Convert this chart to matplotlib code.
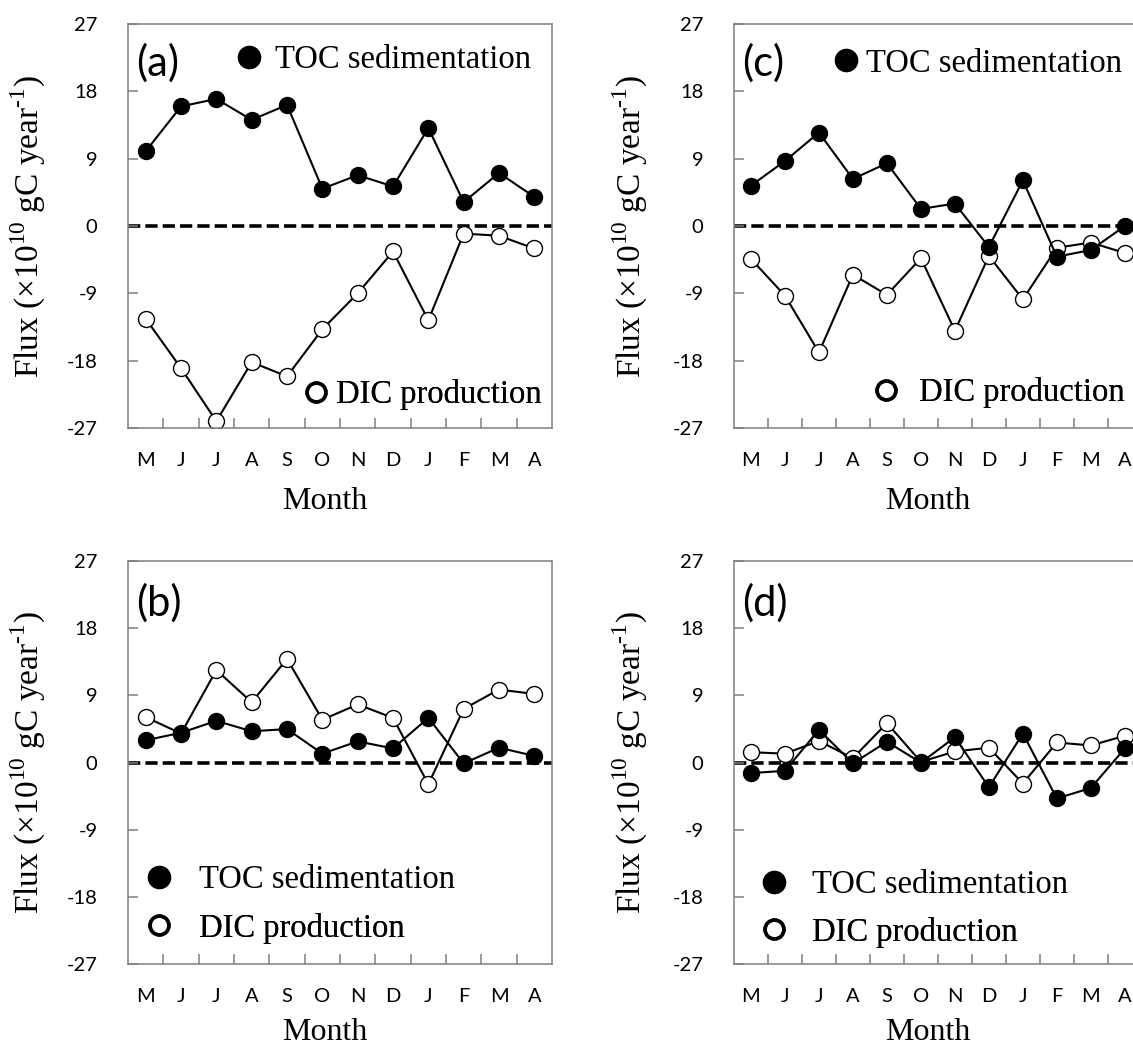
import matplotlib
matplotlib.use('Agg')
import matplotlib.pyplot as plt
from matplotlib.lines import Line2D

months = ['M', 'J', 'J', 'A', 'S', 'O', 'N', 'D', 'J', 'F', 'M', 'A']
yticks = [-27, -18, -9, 0, 9, 18, 27]

# panel (a)
toc_a = [10.0, 16.0, 17.0, 14.2, 16.2, 5.0, 6.8, 5.3, 13.1, 3.2, 7.1, 3.9]
dic_a = [-12.4, -19.0, -26.1, -18.2, -20.1, -13.8, -9.0, -3.4, -12.6, -1.0, -1.3, -3.0]
# panel (b)
toc_b = [3.0, 4.0, 5.6, 4.2, 4.5, 1.2, 2.85, 1.9, 6.0, -0.1, 2.0, 0.9]
dic_b = [6.1, 3.9, 12.4, 8.1, 13.9, 5.75, 7.8, 6.0, -2.9, 7.2, 9.8, 9.2]
# panel (c)
toc_c = [5.4, 8.7, 12.5, 6.3, 8.4, 2.3, 3.0, -2.8, 6.1, -4.1, -3.2, 0.0]
dic_c = [-4.4, -9.3, -16.9, -6.5, -9.2, -4.3, -14.0, -4.0, -9.8, -2.9, -2.2, -3.6]
# panel (d)
toc_d = [-1.4, -1.1, 4.4, -0.1, 2.8, 0.0, 3.4, -3.3, 3.9, -4.8, -3.4, 1.9]
dic_d = [1.4, 1.2, 2.9, 0.6, 5.3, 0.1, 1.5, 2.0, -2.8, 2.7, 2.3, 3.6]

plt.rcParams['axes.unicode_minus'] = False
plt.rcParams['mathtext.fontset'] = 'custom'
plt.rcParams['mathtext.rm'] = 'Liberation Serif'

SERIF = 'Liberation Serif'
SANS = 'Lato'
GRAY = '#7f7f7f'
TXT = 23.5

fig = plt.figure(figsize=(11.33, 10.49), dpi=100)

# axes rectangles in figure fraction (right panels run off the canvas, as in the source)
ax_a = fig.add_axes([0.113, 0.592, 0.3742, 0.385])
ax_b = fig.add_axes([0.113, 0.081, 0.3742, 0.384])
ax_c = fig.add_axes([0.6478, 0.592, 0.360, 0.385])
ax_d = fig.add_axes([0.6478, 0.081, 0.360, 0.384])

filled_h = Line2D([], [], ls='none', marker='o', ms=16, mfc='black', mec='black')
open_h = Line2D([], [], ls='none', marker='o', ms=13.5, mfc='white', mec='black', mew=2.6)


def key(ax, handle, label, x, y, pad):
    leg = ax.legend([handle], [label], loc='center left', bbox_to_anchor=(x, y),
                    frameon=False, handlelength=0.675, handletextpad=pad,
                    borderpad=0, borderaxespad=0,
                    prop={'family': SERIF, 'size': TXT})
    ax.add_artist(leg)


def panel(ax, toc, dic, tag, xlab_x, xlab_y, ylab_x, tag_y):
    x = range(len(months))
    ax.axhline(0, color='black', lw=2.6, ls=(0, (3.4, 1.4)), zorder=1)
    ax.plot(x, dic, color='black', lw=1.5, marker='o', ms=11.5, mfc='white',
            mec='black', mew=1.0, zorder=2)
    ax.plot(x, toc, color='black', lw=1.5, marker='o', ms=11.5, mfc='black',
            mec='black', mew=1.0, zorder=3)

    ax.set_xlim(-0.5, 11.5)
    ax.set_ylim(-27, 27)
    ax.set_yticks(yticks)
    ax.set_yticklabels([str(v) for v in yticks], family=SANS, fontsize=14.5)
    ax.set_xticks(list(x))
    ax.set_xticklabels(months, family=SANS, fontsize=14.5)
    ax.set_xticks([i + 0.5 for i in range(11)], minor=True)
    ax.tick_params(axis='x', which='major', length=0, pad=17)
    ax.tick_params(axis='x', which='minor', direction='in', length=7, width=1.1, color=GRAY)
    ax.tick_params(axis='y', direction='in', length=7, width=1.1, color=GRAY, pad=22)
    for s in ax.spines.values():
        s.set_color(GRAY)
        s.set_linewidth(1.1)

    ax.set_xlabel('Month', family=SERIF, fontsize=23)
    ax.xaxis.set_label_coords(xlab_x, xlab_y)
    ax.set_ylabel(r'Flux ($\times$10$^{\mathrm{10}}$ gC year$^{\text{-1}}$)', family=SERIF, fontsize=24)
    ax.yaxis.set_label_coords(ylab_x, 0.5)
    ax.yaxis.label.set_verticalalignment('center')

    ax.text(0.02, tag_y, tag, transform=ax.transAxes, family=SANS, fontsize=30, va='center', ha='left')


panel(ax_a, toc_a, dic_a, '(a)', 0.465, -0.147, -0.236, 0.903)
panel(ax_b, toc_b, dic_b, '(b)', 0.465, -0.134, -0.236, 0.896)
panel(ax_c, toc_c, dic_c, '(c)', 0.475, -0.147, -0.255, 0.903)
panel(ax_d, toc_d, dic_d, '(d)', 0.475, -0.134, -0.255, 0.896)

key(ax_a, filled_h, 'TOC sedimentation', 0.259, 0.911, 0.46)
key(ax_a, open_h, 'DIC production', 0.417, 0.082, 0.28)
key(ax_c, filled_h, 'TOC sedimentation', 0.248, 0.903, 0.28)
key(ax_c, open_h, 'DIC production', 0.346, 0.087, 0.67)
key(ax_b, filled_h, 'TOC sedimentation', 0.047, 0.208, 0.89)
key(ax_b, open_h, 'DIC production', 0.047, 0.089, 0.89)
key(ax_d, filled_h, 'TOC sedimentation', 0.071, 0.196, 0.83)
key(ax_d, open_h, 'DIC production', 0.071, 0.079, 0.83)

fig.savefig('out.png', dpi=100)
